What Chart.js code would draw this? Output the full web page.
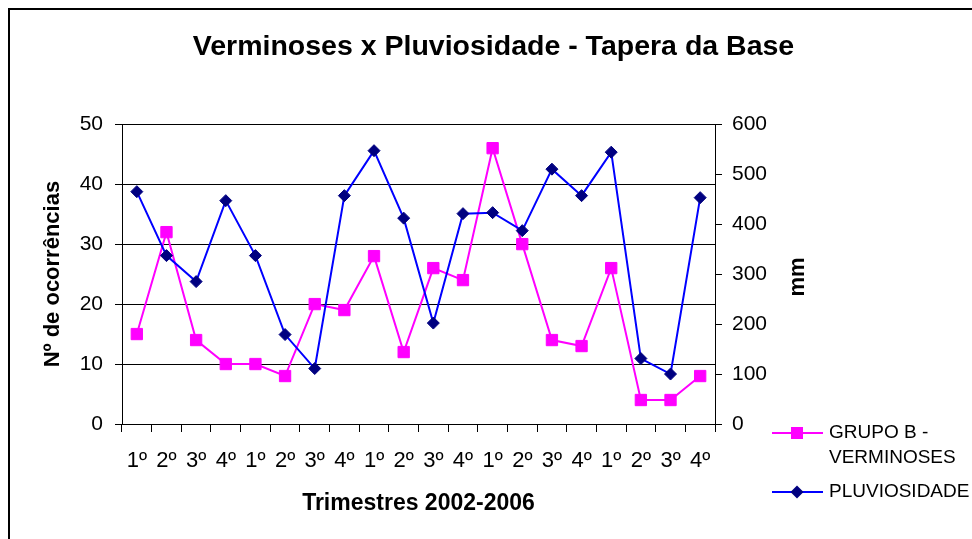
<!DOCTYPE html>
<html>
<head>
<meta charset="utf-8">
<title>Verminoses x Pluviosidade</title>
<script src="https://cdn.jsdelivr.net/npm/chart.js"></script>
<style>
  html, body { margin: 0; padding: 0; background: #fff; }
  canvas { display: block; }
</style>
</head>
<body>
<canvas id="chartCanvas" width="972" height="539"></canvas>
<script>
// trimestres de 2002 a 2006 (cinco anos, quatro trimestres cada)
const trimestres = [
  '1º', '2º', '3º', '4º',
  '1º', '2º', '3º', '4º',
  '1º', '2º', '3º', '4º',
  '1º', '2º', '3º', '4º',
  '1º', '2º', '3º', '4º'
];
const verminoses = [15, 32, 14, 10, 10, 8, 20, 19, 28, 12, 26, 24, 46, 30, 14, 13, 26, 4, 4, 8];
const pluviosidade = [465, 337, 285, 447, 337, 179, 111, 457, 547, 412, 202, 421, 423, 387, 510, 457, 544, 131, 100, 453];
const serieNomes = ['GRUPO B - VERMINOSES', 'PLUVIOSIDADE'];

const FONT = '"Liberation Sans", Arial, Helvetica, sans-serif';

// moldura, título do eixo "mm" e legenda à direita do eixo secundário
const extras = {
  id: 'extras',
  afterDraw(chart) {
    const ctx = chart.ctx;
    ctx.save();
    ctx.strokeStyle = '#000';
    ctx.lineWidth = 2;
    ctx.beginPath();
    ctx.moveTo(9, chart.height);
    ctx.lineTo(9, 9);
    ctx.lineTo(chart.width, 9);
    ctx.stroke();

    ctx.fillStyle = '#000';
    ctx.font = 'bold 22px ' + FONT;
    ctx.textAlign = 'center';
    ctx.textBaseline = 'middle';
    ctx.save();
    ctx.translate(798, 277);
    ctx.rotate(-Math.PI / 2);
    ctx.fillText('mm', 0, 0);
    ctx.restore();

    ctx.font = '19px ' + FONT;
    ctx.textAlign = 'left';
    const rows = [433, 492];
    chart.data.datasets.forEach((ds, i) => {
      const y = rows[i];
      ctx.strokeStyle = ds.borderColor;
      ctx.lineWidth = 2;
      ctx.beginPath();
      ctx.moveTo(772, y);
      ctx.lineTo(823, y);
      ctx.stroke();

      ctx.fillStyle = ds.pointBackgroundColor;
      ctx.beginPath();
      if (ds.pointStyle === 'rect') {
        ctx.rect(797 - 6, y - 6, 12, 12);
      } else {
        ctx.moveTo(797, y - 6.5);
        ctx.lineTo(803.5, y);
        ctx.lineTo(797, y + 6.5);
        ctx.lineTo(790.5, y);
        ctx.closePath();
      }
      ctx.fill();

      // quebra o nome da série em linhas de até 142 px
      const lines = [];
      let cur = '';
      ds.label.split(' ').forEach(w => {
        const test = cur ? cur + ' ' + w : w;
        if (cur && ctx.measureText(test).width > 142) {
          lines.push(cur);
          cur = w;
        } else {
          cur = test;
        }
      });
      lines.push(cur);
      ctx.fillStyle = '#000';
      lines.forEach((t, k) => ctx.fillText(t, 829, y + k * 25));
    });
    ctx.restore();
  }
};

new Chart(document.getElementById('chartCanvas'), {
  type: 'line',
  data: {
    labels: trimestres,
    datasets: [
      {
        label: serieNomes[0],
        data: verminoses,
        yAxisID: 'y',
        borderColor: '#FF00FF',
        backgroundColor: '#FF00FF',
        pointBackgroundColor: '#FF00FF',
        pointBorderColor: '#FF00FF',
        borderWidth: 2,
        pointStyle: 'rect',
        pointRadius: 8,
        pointBorderWidth: 1,
        tension: 0,
        order: 1
      },
      {
        label: serieNomes[1],
        data: pluviosidade,
        yAxisID: 'y1',
        borderColor: '#0000FF',
        backgroundColor: '#000080',
        pointBackgroundColor: '#000080',
        pointBorderColor: '#000080',
        borderWidth: 2,
        pointStyle: 'rectRot',
        pointRadius: 6,
        pointBorderWidth: 1,
        tension: 0,
        order: 0
      }
    ]
  },
  options: {
    responsive: false,
    animation: false,
    events: [],
    layout: { padding: { left: 15, right: 0, top: 0, bottom: 0 } },
    plugins: {
      legend: { display: false },
      tooltip: { enabled: false },
      title: {
        display: true,
        text: 'Verminoses x Pluviosidade - Tapera da Base',
        color: '#000',
        font: { family: FONT, size: 28.5, weight: 'bold' },
        padding: { top: 30, bottom: 60 }
      }
    },
    scales: {
      x: {
        offset: true,
        afterFit: s => { s.height = 115; },
        grid: { offset: true, drawOnChartArea: false, drawTicks: true, tickLength: 8, color: '#000' },
        border: { color: '#000', width: 1 },
        ticks: { color: '#000', font: { family: FONT, size: 22 }, padding: 16, autoSkip: false, maxRotation: 0 },
        title: {
          display: true,
          text: 'Trimestres 2002-2006',
          color: '#000',
          font: { family: FONT, size: 23, weight: 'bold' },
          padding: { top: 0, bottom: 22 }
        }
      },
      y: {
        position: 'left',
        min: 0,
        max: 50,
        afterFit: s => { s.width = 107; },
        grid: { color: '#000', tickLength: 7 },
        border: { color: '#000', width: 1 },
        ticks: { stepSize: 10, color: '#000', font: { family: FONT, size: 21 }, padding: 12 },
        title: {
          display: true,
          text: 'Nº de ocorrências',
          color: '#000',
          font: { family: FONT, size: 22, weight: 'bold' },
          padding: { top: 25, bottom: 0 }
        }
      },
      y1: {
        position: 'right',
        min: 0,
        max: 600,
        afterFit: s => { s.width = 257; },
        grid: { drawOnChartArea: false, color: '#000', tickLength: 7 },
        border: { color: '#000', width: 1 },
        ticks: { stepSize: 100, color: '#000', font: { family: FONT, size: 21 }, padding: 10 }
      }
    }
  },
  plugins: [extras]
});
</script>
</body>
</html>
